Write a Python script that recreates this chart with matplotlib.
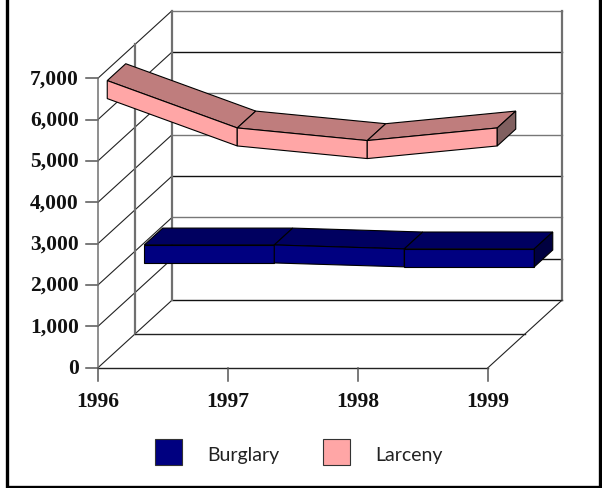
import matplotlib
matplotlib.use("Agg")
from matplotlib import pyplot as plt
from matplotlib.patches import Polygon, Rectangle

years = ["1996", "1997", "1998", "1999"]
burglary = [1730, 1730, 1635, 1635]
larceny = [6520, 5375, 5070, 5375]
y_ticks = [0, 1000, 2000, 3000, 4000, 5000, 6000, 7000]
grid_colors = ["#111111", "#111111", "#777777", "#111111", "#777777", "#777777", "#111111", "#777777"]

# pixel layout of the fake 3d box
X0, Y0 = 98, 368.7
X_STEP = 130
Y_UNIT = 41.36 / 1000
DEPTH_X, DEPTH_Y = 74, 67.5
HALF = 9 / Y_UNIT


def project(i, value, depth):
    return X0 + X_STEP * i + DEPTH_X * depth, Y0 - Y_UNIT * value - DEPTH_Y * depth


def draw_ribbon(ax, values, d0, d1, front, top, side, zorder):
    last = len(values) - 1
    for i in range(last):
        a, b = values[i], values[i + 1]
        ax.add_patch(Polygon([project(i, a + HALF, d0), project(i + 1, b + HALF, d0),
                              project(i + 1, b + HALF, d1), project(i, a + HALF, d1)],
                             fc=top, ec="black", lw=0.8, zorder=zorder))
        ax.add_patch(Polygon([project(i, a - HALF, d0), project(i + 1, b - HALF, d0),
                              project(i + 1, b + HALF, d0), project(i, a + HALF, d0)],
                             fc=front, ec="black", lw=0.8, zorder=zorder))
    v = values[last]
    ax.add_patch(Polygon([project(last, v - HALF, d0), project(last, v + HALF, d0),
                          project(last, v + HALF, d1), project(last, v - HALF, d1)],
                         fc=side, ec="black", lw=0.8, zorder=zorder))


fig = plt.figure(figsize=(6.02, 4.89), dpi=100)
ax = fig.add_axes([0, 0, 1, 1])
ax.set_xlim(0, 602)
ax.set_ylim(489, 0)
ax.axis("off")

# back wall, side wall and floor
for v, c in zip(y_ticks, grid_colors):
    x1, y1 = project(0, v, 1)
    x2, y2 = project(3, v, 1)
    x0, y0 = project(0, v, 0)
    ax.plot([x1, x2], [y1, y2], color=c, lw=1.0, zorder=1)
    ax.plot([x0, x1], [y0, y1], color="#222222", lw=0.8, zorder=1)
    ax.plot([x0 - 12, x0], [y0, y0], color="#555555", lw=1.1, zorder=1)
    ax.text(79, y0, f"{v:,}", ha="right", va="center", fontsize=15.5, fontweight="bold",
            family="Liberation Serif", color="#111111")

for i, d in [(0, 0), (0, 0.5), (0, 1), (3, 1)]:
    xa, ya = project(i, 0, d)
    xb, yb = project(i, 7000, d)
    ax.plot([xa, xb], [ya, yb], color="#707070", lw=1.6 if d else 1.1, zorder=1)

ax.plot(*zip(project(0, 0, 0), project(3, 0, 0)), color="#222222", lw=1.0, zorder=1)
ax.plot(*zip(project(0, 0, 0.5), project(3, 0, 0.5)), color="#222222", lw=1.0, zorder=1)
ax.plot(*zip(project(3, 0, 0), project(3, 0, 1)), color="#222222", lw=0.8, zorder=1)

for i, label in enumerate(years):
    x, y = project(i, 0, 0)
    ax.plot([x, x], [y, y + 13], color="#555555", lw=1.1, zorder=1)
    ax.text(x, 402, label, ha="center", va="center", fontsize=15.5, fontweight="bold",
            family="Liberation Serif", color="#111111")

draw_ribbon(ax, burglary, 0.625, 0.875, "#000080", "#000060", "#000040", 2)
draw_ribbon(ax, larceny, 0.125, 0.375, "#FFA6A6", "#BF7D7D", "#805F5F", 3)

# legend
ax.add_patch(Rectangle((155, 440), 27, 26, fc="#000080", ec="#333333", lw=0.8))
ax.add_patch(Rectangle((323, 440), 27, 26, fc="#FFA6A6", ec="#333333", lw=0.8))
ax.text(207.5, 455, "Burglary", ha="left", va="center", fontsize=14, family="Lato", color="#222222")
ax.text(375.5, 455, "Larceny", ha="left", va="center", fontsize=14, family="Lato", color="#222222")

# outer frame
ax.plot([7.3, 7.3, 599.5, 599.5], [0, 488, 488, 0], color="black", lw=2.4, zorder=5, solid_joinstyle="miter")

fig.savefig("out.png", dpi=100)
